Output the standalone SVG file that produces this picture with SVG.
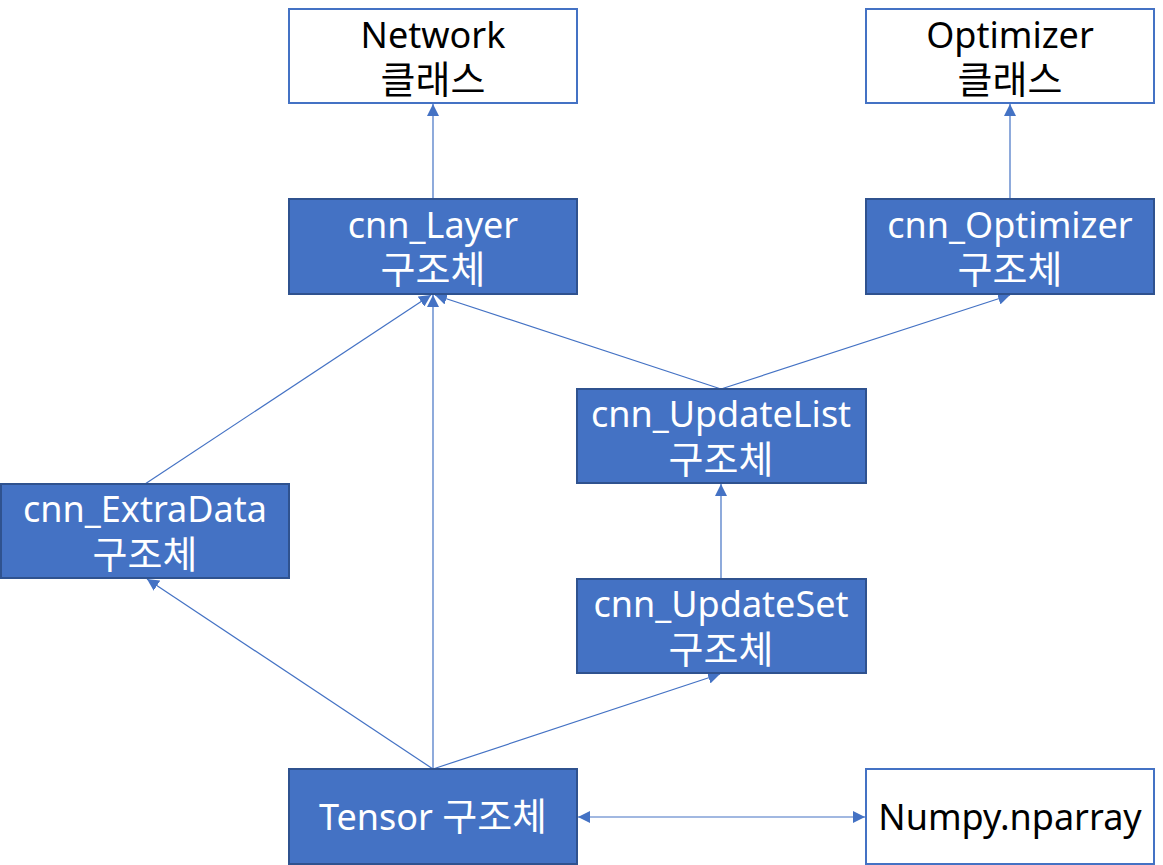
<svg xmlns="http://www.w3.org/2000/svg" width="1163" height="865" viewBox="0 0 1163 865">
<style>
.w{fill:#ffffff;stroke:#4472C4;stroke-width:2}
.b{fill:#4472C4;stroke:#2F528F;stroke-width:2}
text{font-family:"Noto Sans","Noto Sans CJK KR",sans-serif;font-size:36px;text-anchor:middle}
.k{font-family:"Noto Sans CJK KR",sans-serif;font-size:38px}
.tw{fill:#ffffff}
.tb{fill:#000000}
.c{stroke:#4472C4;stroke-width:1.2;fill:none;marker-end:url(#ah)}
</style>
<defs>
<marker id="ah" markerWidth="12" markerHeight="12" refX="10" refY="5" orient="auto" markerUnits="userSpaceOnUse" viewBox="0 0 10 10">
<path d="M0,0 L10,5 L0,10 z" fill="#4472C4"/>
</marker>
<marker id="as" markerWidth="12" markerHeight="12" refX="0" refY="5" orient="auto" markerUnits="userSpaceOnUse" viewBox="0 0 10 10">
<path d="M10,0 L0,5 L10,10 z" fill="#4472C4"/>
</marker>
</defs>
<g id="connectors">
<line class="c" x1="433" y1="199" x2="433" y2="104"/>
<line class="c" x1="1010" y1="199" x2="1010" y2="104"/>
<line class="c" x1="145" y1="484" x2="431" y2="295"/>
<line class="c" x1="433" y1="769" x2="433" y2="295"/>
<line class="c" x1="721" y1="389" x2="435" y2="295"/>
<line class="c" x1="721" y1="389" x2="1010" y2="295"/>
<line class="c" x1="721" y1="579" x2="721" y2="484"/>
<line class="c" x1="433" y1="769" x2="147" y2="579"/>
<line class="c" x1="433" y1="769" x2="720" y2="674"/>
<line class="c" x1="578" y1="817" x2="865" y2="817" marker-start="url(#as)"/>
</g>
<g id="network"><rect class="w" x="289" y="9" width="288" height="94"/><text class="tb" x="433" y="48">Network</text><text class="tb k" x="433" y="93">클래스</text></g>
<g id="optimizer"><rect class="w" x="866" y="9" width="288" height="94"/><text class="tb" x="1010" y="48">Optimizer</text><text class="tb k" x="1010" y="93">클래스</text></g>
<g id="cnn_layer"><rect class="b" x="289" y="199" width="288" height="95"/><text class="tw" x="433" y="238">cnn_Layer</text><text class="tw k" x="433" y="283">구조체</text></g>
<g id="cnn_optimizer"><rect class="b" x="866" y="199" width="288" height="95"/><text class="tw" x="1010" y="238">cnn_Optimizer</text><text class="tw k" x="1010" y="283">구조체</text></g>
<g id="cnn_updatelist"><rect class="b" x="577" y="389" width="289" height="94"/><text class="tw" x="721" y="427">cnn_UpdateList</text><text class="tw k" x="721" y="473">구조체</text></g>
<g id="cnn_extradata"><rect class="b" x="1" y="484" width="288" height="94"/><text class="tw" x="145" y="522">cnn_ExtraData</text><text class="tw k" x="145" y="568">구조체</text></g>
<g id="cnn_updateset"><rect class="b" x="577" y="579" width="289" height="94"/><text class="tw" x="721" y="617">cnn_UpdateSet</text><text class="tw k" x="721" y="663">구조체</text></g>
<g id="tensor"><rect class="b" x="289" y="769" width="288" height="95"/><text class="tw" x="433" y="830">Tensor <tspan class="k">구조체</tspan></text></g>
<g id="numpy"><rect class="w" x="866" y="769" width="288" height="95"/><text class="tb" x="1010" y="830">Numpy.nparray</text></g>
</svg>
